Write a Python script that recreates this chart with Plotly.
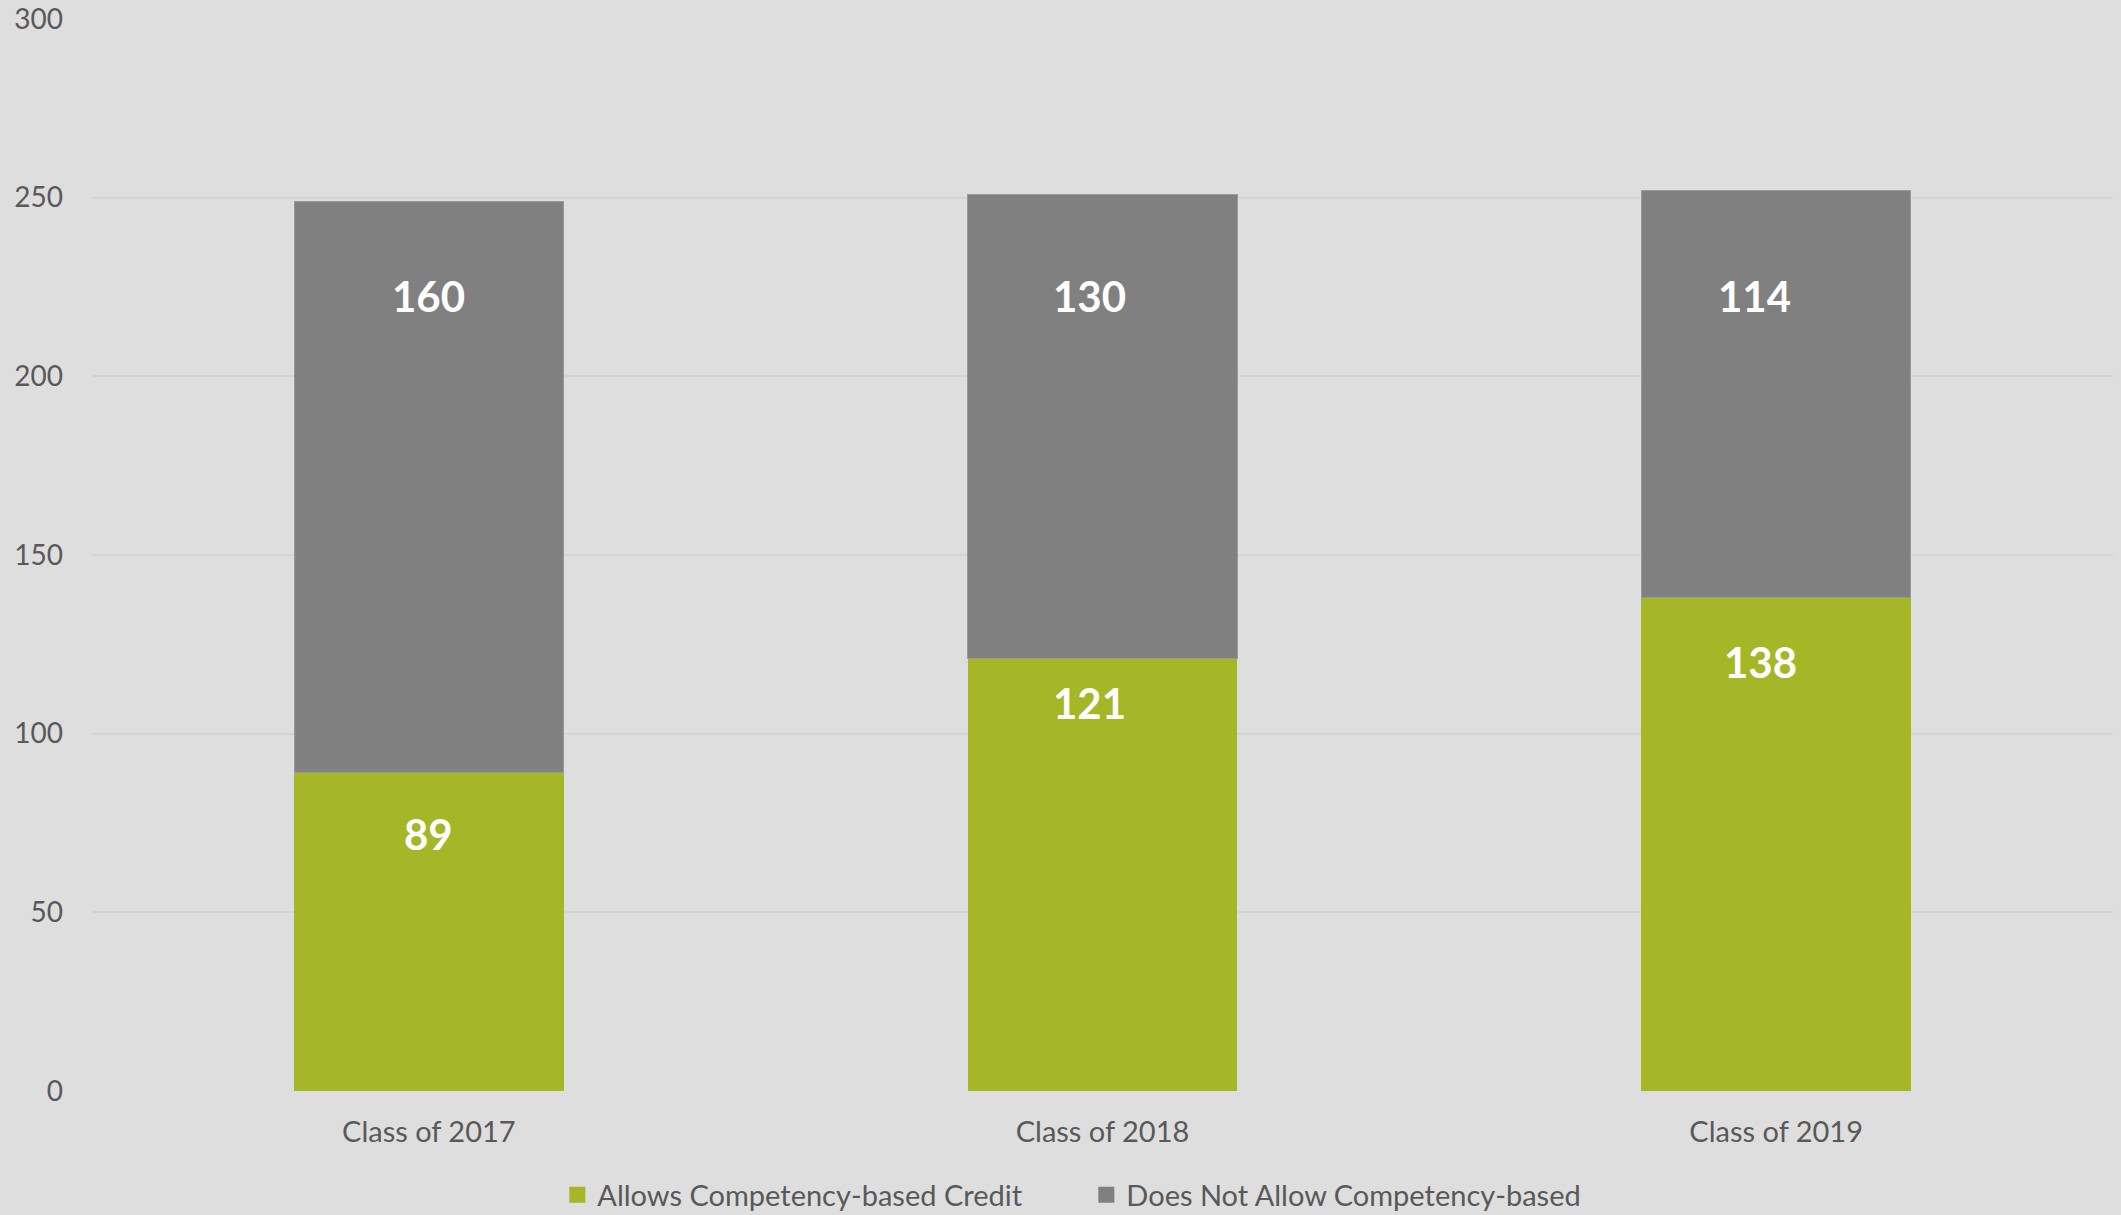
import plotly.graph_objects as go

# Graduating classes and counts of districts by competency-based credit policy
categories = ["Class of 2017", "Class of 2018", "Class of 2019"]
allows = [89, 121, 138]
does_not_allow = [160, 130, 114]
series_names = ["Allows Competency-based Credit", "Does Not Allow Competency-based"]
y_ticks = [0, 50, 100, 150, 200, 250, 300]

GREEN = "#A5B726"
GREY = "#808080"
BG = "#DEDEDE"
TEXT = "#595959"
FONT = "Lato, 'Open Sans', sans-serif"

fig = go.Figure()
fig.add_bar(x=categories, y=allows, name=series_names[0], showlegend=False,
            marker=dict(color=GREEN, line=dict(width=0)), hoverinfo="skip")
fig.add_bar(x=categories, y=does_not_allow, name=series_names[1], showlegend=False,
            marker=dict(color=GREY, line=dict(color="#9A9A9A", width=1)),
            hoverinfo="skip")

# Legend entries with larger square swatches
for name, color in zip(series_names, [GREEN, GREY]):
    fig.add_scatter(x=[None], y=[None], mode="markers", name=name,
                    marker=dict(symbol="square", size=18, color=color),
                    hoverinfo="skip")

# Value labels, placed in the upper part of each segment
green_label_y = [72, 108.5, 120]
grey_label_y = [222.5, 222.5, 222.5]
green_shift = [0, -13, -16]
grey_shift = [0, -13, -22]
for i, cat in enumerate(categories):
    fig.add_annotation(x=cat, y=green_label_y[i], text=f"<b>{allows[i]}</b>",
                       showarrow=False, xshift=green_shift[i],
                       font=dict(family=FONT, size=42, color="white"))
    fig.add_annotation(x=cat, y=grey_label_y[i], text=f"<b>{does_not_allow[i]}</b>",
                       showarrow=False, xshift=grey_shift[i],
                       font=dict(family=FONT, size=42, color="white"))

fig.update_layout(
    barmode="stack",
    bargap=0.6,
    width=2121,
    height=1215,
    margin=dict(l=92, r=8, t=19, b=124, autoexpand=False),
    paper_bgcolor=BG,
    plot_bgcolor=BG,
    font=dict(family=FONT, size=28, color=TEXT),
    showlegend=True,
    legend=dict(orientation="h", x=0.492, xanchor="center", y=-0.097,
                yanchor="middle", font=dict(size=29, color=TEXT),
                bgcolor="rgba(0,0,0,0)", itemwidth=30, traceorder="normal",
                entrywidth=484, entrywidthmode="pixels"),
)
fig.update_xaxes(showgrid=False, showline=False, ticks="", zeroline=False,
                 automargin=False, ticklabelstandoff=21,
                 tickfont=dict(size=29, color=TEXT), range=[-0.5, 2.5])
fig.update_yaxes(range=[0, 300], tickvals=y_ticks, showgrid=True,
                 gridcolor="#D4D4D4", gridwidth=2, zeroline=False,
                 showline=False, ticks="", ticklabelstandoff=28,
                 automargin=False, tickfont=dict(size=28, color=TEXT))

fig.write_html("out.html")
